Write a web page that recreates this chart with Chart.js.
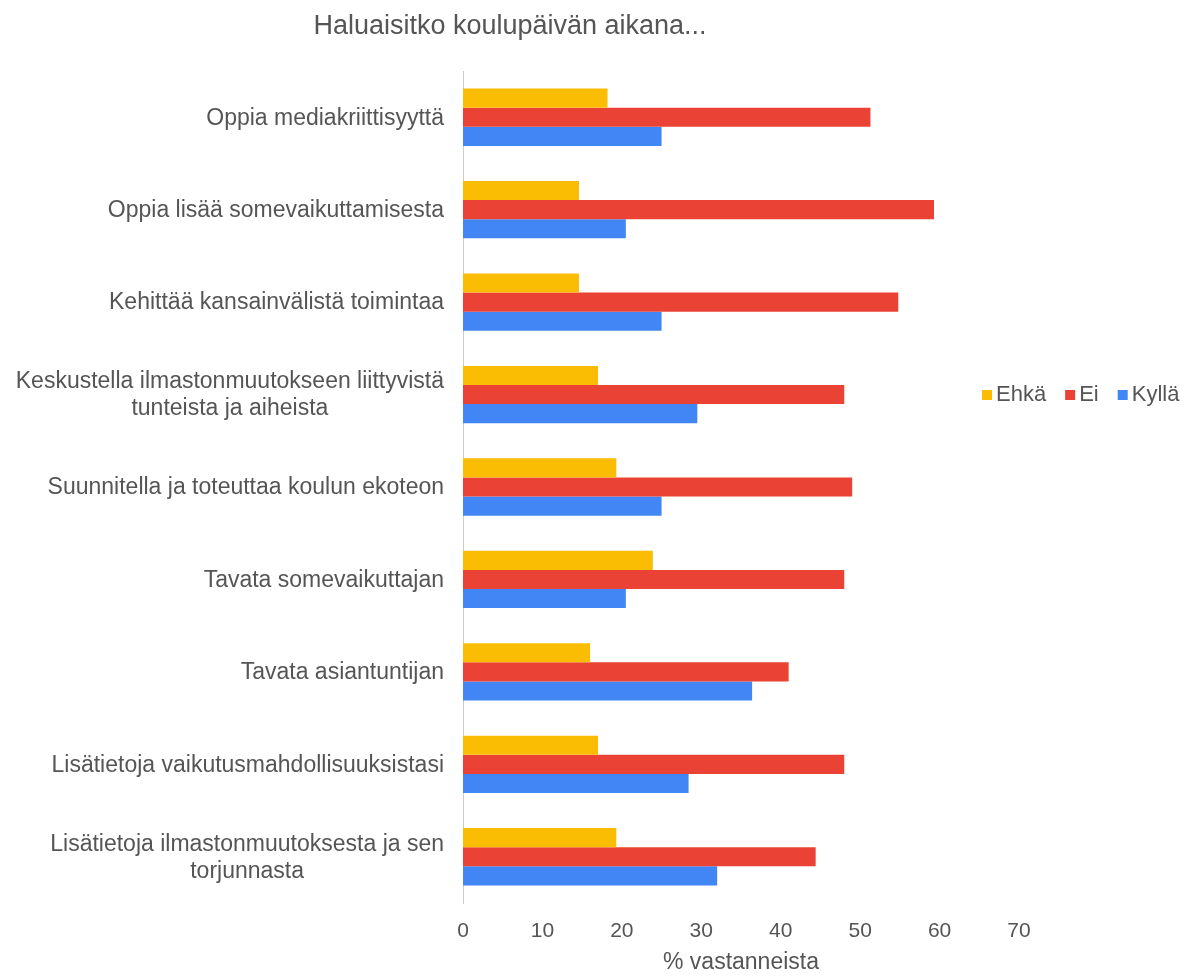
<!DOCTYPE html>
<html>
<head>
<meta charset="utf-8">
<script src="https://cdn.jsdelivr.net/npm/chart.js@4/dist/chart.umd.min.js"></script>
<style>
  html, body { margin: 0; padding: 0; background: #fff; }
  #wrap { width: 1187px; height: 976px; }
</style>
</head>
<body>
<div id="wrap"><canvas id="chart" width="1187" height="976"></canvas></div>
<script>
const categories = [
  'Oppia mediakriittisyyttä',
  'Oppia lisää somevaikuttamisesta',
  'Kehittää kansainvälistä toimintaa',
  ['Keskustella ilmastonmuutokseen liittyvistä', 'tunteista ja aiheista'],
  'Suunnitella ja toteuttaa koulun ekoteon',
  'Tavata somevaikuttajan',
  'Tavata asiantuntijan',
  'Lisätietoja vaikutusmahdollisuuksistasi',
  ['Lisätietoja ilmastonmuutoksesta ja sen', 'torjunnasta']
]
const ehka = [18.2, 14.6, 14.6, 17, 19.3, 23.9, 16, 17, 19.3]
const ei = [51.3, 59.3, 54.8, 48, 49, 48, 41, 48, 44.4]
const kylla = [25, 20.5, 25, 29.5, 25, 20.5, 36.4, 28.4, 32]
const xTicks = [0, 10, 20, 30, 40, 50, 60, 70]

const chartTitle = 'Haluaisitko koulupäivän aikana...'
const xTitle = '% vastanneista'
const textColor = '#555'
const font = 'Liberation Sans, Arial, sans-serif'

// title, y labels and legend drawn by hand to match the original placement
const extras = {
  id: 'extras',
  afterDraw(chart) {
    const ctx = chart.ctx
    const yScale = chart.scales.y
    ctx.save()
    ctx.fillStyle = textColor
    ctx.textBaseline = 'middle'

    ctx.font = '27px ' + font
    ctx.textAlign = 'center'
    ctx.fillText(chartTitle, 510, 27)

    ctx.font = '23px ' + font
    categories.forEach((label, i) => {
      const lines = Array.isArray(label) ? label : [label]
      const y = yScale.getPixelForTick(i)
      const w = Math.max(...lines.map(l => ctx.measureText(l).width))
      const cx = 444 - w / 2
      const lh = 27
      lines.forEach((line, j) => {
        ctx.fillText(line, cx, y + 1 + (j - (lines.length - 1) / 2) * lh)
      })
    })

    // legend
    ctx.font = '22px ' + font
    let x = 982
    const ly = 395
    chart.data.datasets.forEach(ds => {
      ctx.fillStyle = ds.backgroundColor
      ctx.fillRect(x, ly - 5, 10, 10)
      ctx.fillStyle = textColor
      ctx.textAlign = 'left'
      ctx.fillText(ds.label, x + 14, ly)
      x += 14 + ctx.measureText(ds.label).width + 19
    })
    ctx.restore()
  }
}

const ctx = document.getElementById('chart').getContext('2d')
const myChart = new Chart(ctx, {
  type: 'bar',
  data: {
    labels: categories,
    datasets: [
      { label: 'Ehkä', data: ehka, backgroundColor: '#FBBC04' },
      { label: 'Ei', data: ei, backgroundColor: '#EA4335' },
      { label: 'Kyllä', data: kylla, backgroundColor: '#4285F4' }
    ]
  },
  options: {
    indexAxis: 'y',
    responsive: false,
    animation: false,
    layout: { padding: { top: 71, right: 168, left: 0, bottom: 0 } },
    datasets: { bar: { barPercentage: 1, categoryPercentage: 0.62 } },
    plugins: {
      legend: { display: false },
      title: { display: false },
      tooltip: { enabled: false }
    },
    scales: {
      x: {
        min: 0,
        max: 70,
        afterBuildTicks: scale => { scale.ticks = xTicks.map(v => ({ value: v })) },
        afterFit: scale => { scale.height = 73 },
        grid: { display: false, drawTicks: false },
        border: { display: false },
        ticks: { color: textColor, font: { size: 21, family: font }, padding: 16 },
        title: { display: true, text: xTitle, color: textColor, font: { size: 23, family: font }, padding: { top: 0, bottom: 0 } }
      },
      y: {
        afterFit: scale => { scale.width = 463 },
        grid: { display: false, drawTicks: false },
        border: { display: true, color: '#ccc', width: 1 },
        ticks: { display: false }
      }
    }
  },
  plugins: [extras]
})
</script>
</body>
</html>
